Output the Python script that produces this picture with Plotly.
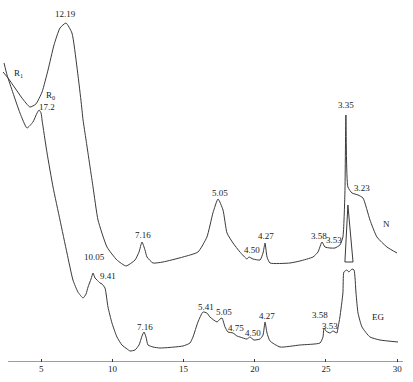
import plotly.graph_objects as go

# N curve (2theta, intensity a.u.)
n_x = [2.32, 2.67, 3.16, 3.65, 4.21, 4.63, 5.06, 5.48, 5.90, 6.32, 6.74, 7.16, 7.51, 7.79, 7.94,
       8.15, 8.64, 8.99, 9.62, 10.32, 10.96, 11.59, 11.87, 12.08, 12.29, 12.43, 12.85, 13.55,
       14.96, 16.01, 16.64, 17.06, 17.42, 17.77, 18.05, 18.47, 18.96, 19.45, 19.59, 19.87,
       20.37, 20.58, 20.72, 20.86, 21.07, 22.47, 23.17, 24.09, 24.44, 24.72, 24.93, 25.28,
       25.63, 25.98, 26.19, 26.33, 26.40, 26.54, 26.83, 27.25, 27.60, 28.09, 28.58, 29.28, 29.99]
n_y = [290, 284, 274, 264, 255, 258, 270, 292, 317, 334, 339, 329, 295, 262, 242,
       222, 175, 142, 115, 102, 96, 102, 110, 120, 112, 105, 99, 100,
       105, 110, 125, 149, 163, 152, 129, 119, 110, 103, 105, 103,
       102, 109, 119, 105, 99, 99, 101, 105, 110, 120, 115, 114,
       114, 117, 125, 169, 247, 175, 169, 167, 164, 142, 125, 115, 109]

# EG curve
eg_x = [2.39, 2.60, 3.02, 3.51, 4.00, 4.42, 4.71, 4.85, 4.99, 5.06, 5.41, 5.83, 6.32, 6.81, 7.23,
        7.58, 7.94, 8.15, 8.29, 8.50, 8.64, 8.78, 8.92, 9.13, 9.27, 9.48, 9.69, 9.97, 10.32,
        10.67, 11.03, 11.24, 11.59, 11.87, 12.08, 12.22, 12.36, 12.50, 12.85, 13.34, 14.96,
        15.45, 15.66, 16.01, 16.36, 16.64, 16.85, 17.35, 17.56, 17.70, 17.91, 18.12, 18.47,
        18.75, 18.96, 19.45, 19.66, 19.94, 20.37, 20.58, 20.72, 20.86, 21.07, 21.77, 23.17,
        24.58, 24.79, 24.86, 25.00, 25.28, 25.49, 25.77, 25.84, 25.98, 26.19, 26.26, 26.47,
        26.61, 26.83, 26.97, 27.11, 27.25, 27.53, 28.09, 28.79, 30.06]
eg_y = [299, 287, 269, 249, 234, 240, 249, 252, 249, 242, 209, 175, 142, 109, 82,
        70, 64, 68, 75, 83, 89, 84, 82, 79, 78, 74, 55, 39, 25,
        17, 13, 11, 12, 17, 26, 30, 25, 17, 15, 14, 16,
        19, 25, 40, 50, 49, 45, 40, 43, 44, 35, 30, 29,
        26, 25, 23, 25, 22, 23, 27, 40, 29, 21, 15, 17,
        19, 25, 34, 31, 29, 31, 29, 34, 45, 69, 90, 92,
        90, 93, 92, 69, 49, 35, 25, 22, 20]

# EG peak tip drawn above the N trace
tip_x = [26.33, 26.54, 26.90, 26.33]
tip_y = [100, 157, 100, 100]

# Peak labels
lab_text = ["12.19", "R<sub>1</sub>", "R<sub>0</sub>", "17.2", "7.16", "5.05", "4.50", "4.27",
            "3.58", "3.53", "3.35", "3.23", "N", "10.05", "9.41", "7.16", "5.41", "5.05",
            "4.75", "4.50", "4.27", "3.58", "3.53", "EG"]
lab_x = [6.74, 3.40, 5.62, 5.41, 12.15, 17.56, 19.80, 20.79, 24.54, 25.56, 26.40, 27.53, 29.28,
         8.71, 9.69, 12.29, 16.57, 17.84, 18.68, 19.87, 20.86, 24.61, 25.30, 28.65]
lab_y = [348, 289, 267, 255, 127, 169, 112, 126, 126, 122, 257, 174, 138,
         105, 86, 35, 55, 50, 34, 29, 46, 47, 36, 45]

tick_vals = [5, 10, 15, 20, 25, 30]
x_range = [2.247, 30.41]
axis_span = [2.67, 30.41]

col = "#3a3a3a"
fig = go.Figure()
for xs, ys, shp in [(n_x, n_y, "spline"), (eg_x, eg_y, "spline"), (tip_x, tip_y, "linear")]:
    fig.add_trace(go.Scatter(x=xs, y=ys, mode="lines",
                             line=dict(color=col, width=1, shape=shp,
                                       smoothing=0.5 if shp == "spline" else None),
                             showlegend=False, hoverinfo="skip"))

for t, x, y in zip(lab_text, lab_x, lab_y):
    fig.add_annotation(x=x, y=y, text=t, showarrow=False,
                       font=dict(family="Liberation Serif", size=9, color="#1a1a1a"))

fig.add_shape(type="line", xref="x", yref="y", x0=axis_span[0], x1=axis_span[1], y0=0, y1=0,
              line=dict(color=col, width=1))

fig.update_layout(
    width=413, height=382, margin=dict(l=2, r=10, t=0, b=20),
    paper_bgcolor="white", plot_bgcolor="white",
    xaxis=dict(range=x_range, tickvals=tick_vals, ticks="inside", ticklen=3, tickcolor=col,
               showgrid=False, zeroline=False, showline=False,
               tickfont=dict(family="Liberation Serif", size=9, color="#1a1a1a")),
    yaxis=dict(range=[0, 362], visible=False, showgrid=False, zeroline=False),
)
fig.write_html("out.html", config={"displayModeBar": False},
               post_script="document.body.style.margin='0';")
